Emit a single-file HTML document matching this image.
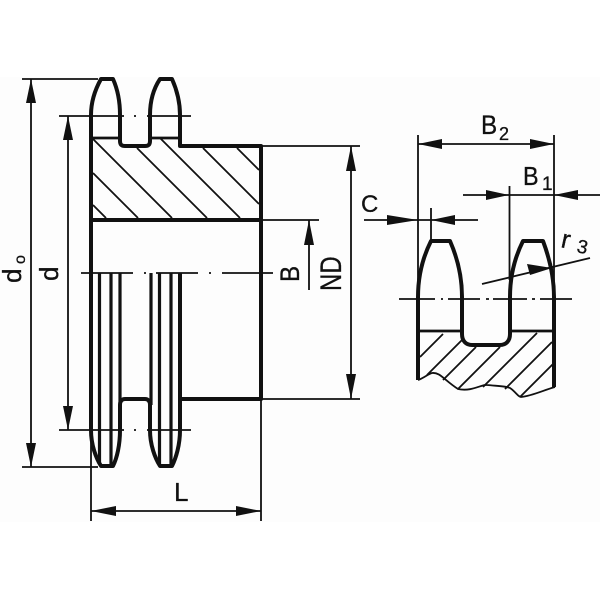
<!DOCTYPE html>
<html><head><meta charset="utf-8"><style>
html,body{margin:0;padding:0;background:#fff}
svg{display:block;filter:blur(0.35px)}
text{font-family:"Liberation Sans",sans-serif;fill:#111;stroke:#111;stroke-width:.3}
</style></head><body>
<svg width="600" height="600" viewBox="0 0 600 600" xmlns="http://www.w3.org/2000/svg">
<rect x="0" y="77" width="600" height="445" fill="#fdfdfd"/>
<g fill="none" stroke="#111" stroke-width="1.8">
<!-- dimension lines left -->
<path d="M22 79H98M22 467H98M59 116H124M134 116H136M147 116H191M59 430H124M134 430H136M147 430H191"/>
<path d="M31 79V467M68 116V430"/>
<path d="M81 273H133M144 273H146M156 273H198M209 273H211M222 273H273"/>
<!-- hub extension -->
<path d="M261 146H360M261 399H360M261 220H319M351 146V399M309 220V290M91 440V521M261 399V521M91 511H261"/>
<!-- hatch left -->
<path d="M93 139L172 218M137 148L207 218M93 173L138 218M93 205L106 218M160 138L240 218M203 148L259 204M237 148L259 170"/>
<!-- right dims -->
<path d="M418 135V297M554 135V290M418 144H554M463 195H600M509.500 186V280M364 220H478M431 208V241"/>
<path d="M399 299H435M441 299H443M448 299H480M486 299H489M493 299H527M532 299H535M540 299H572"/>
<path d="M482 284L590 258"/>
<path d="M418 380C424 378 428 374 432 373C440 372 444 380 458 389C472 392 482 384 487 385C497 386 506 386 510 388C516 392 518 397 521 397C532 396 544 390 555 387"/>
<path d="M420 357L443 334M427 375L462 340M443 380L476 347M458 389L500 347M483 387L537 333M505 389L552 342M520 397L553 364"/>
</g>
<g fill="none" stroke="#111" stroke-width="4" stroke-linejoin="round">
<!-- upper section -->
<path d="M91 273V115C91 100 96 88 101 79H113C117 88 120 100 120 115V141C120 145 122 146 125 146H145C148 146 150 145 150 141V115C150 100 154 88 160 79H172C176 88 180 100 180 115V146H261V399H180"/>
<path d="M91 220H261"/>
<path d="M91 138H120M150 138H180" stroke-width="2.800"/>
<!-- lower section -->
<path d="M91 273V430C91 445 96 458 101 466H113C117 458 120 445 120 430V405C120 401 122 399 125 399H145C148 399 150 401 150 405V430C150 445 155 458 160 466H172C176 458 180 445 180 430V273"/>
<path d="M99.500 273V464M111 273V464M120 273V405M151 273V405M159.500 273V464M171 273V464" stroke-width="3.200"/>
<!-- right profile -->
<path d="M418 380V297C418 275 423 257 431 241H450C457 257 462 275 462 297V334C462 341 466 345 472 345H500C506 345 510 341 510 334V297C510 275 515 257 523 241H543C549 257 554 275 554 297V387"/>
<path d="M418 331H462M510 331H554" stroke-width="2.800"/>
</g>
<g fill="#111" stroke="none">
<path d="M31 79L36 103H26ZM31 467L36 443H26ZM68 116L73 140H63ZM68 430L73 406H63Z"/>
<path d="M351 146L356 171H346ZM351 399L356 374H346ZM309 220L314 245H304Z"/>
<path d="M91 511L116 506V516ZM261 511L236 506V516Z"/>
<path d="M418 144L442 139V149ZM554 144L530 139V149ZM509 195L486 190V200ZM554 195L578 190V200ZM418 220L387 215V225ZM431 220L455 215V225Z"/>
<path d="M552 268L527 264L530 275Z"/>
</g>
<text transform="translate(481,134) scale(.9,1)" font-size="27">B</text>
<text x="499" y="140" font-size="18">2</text>
<text transform="translate(523,185) scale(.9,1)" font-size="26">B</text>
<text x="542" y="190" font-size="19">1</text>
<text x="361" y="212" font-size="24">C</text>
<text x="174" y="501" font-size="26">L</text>
<text transform="translate(560,247) rotate(12)" font-size="26">r</text>
<text transform="translate(576,252) rotate(12)" font-size="19">3</text>
<text transform="translate(21,283) rotate(-90)" font-size="26">d</text>
<text transform="translate(25,264) rotate(-90)" font-size="16">o</text>
<text transform="translate(58,281) rotate(-90)" font-size="26">d</text>
<text transform="translate(299,282) rotate(-90) scale(.9,1)" font-size="27">B</text>
<text transform="translate(341,291) rotate(-90) scale(.8,1)" font-size="30">ND</text>
</svg>
</body></html>
